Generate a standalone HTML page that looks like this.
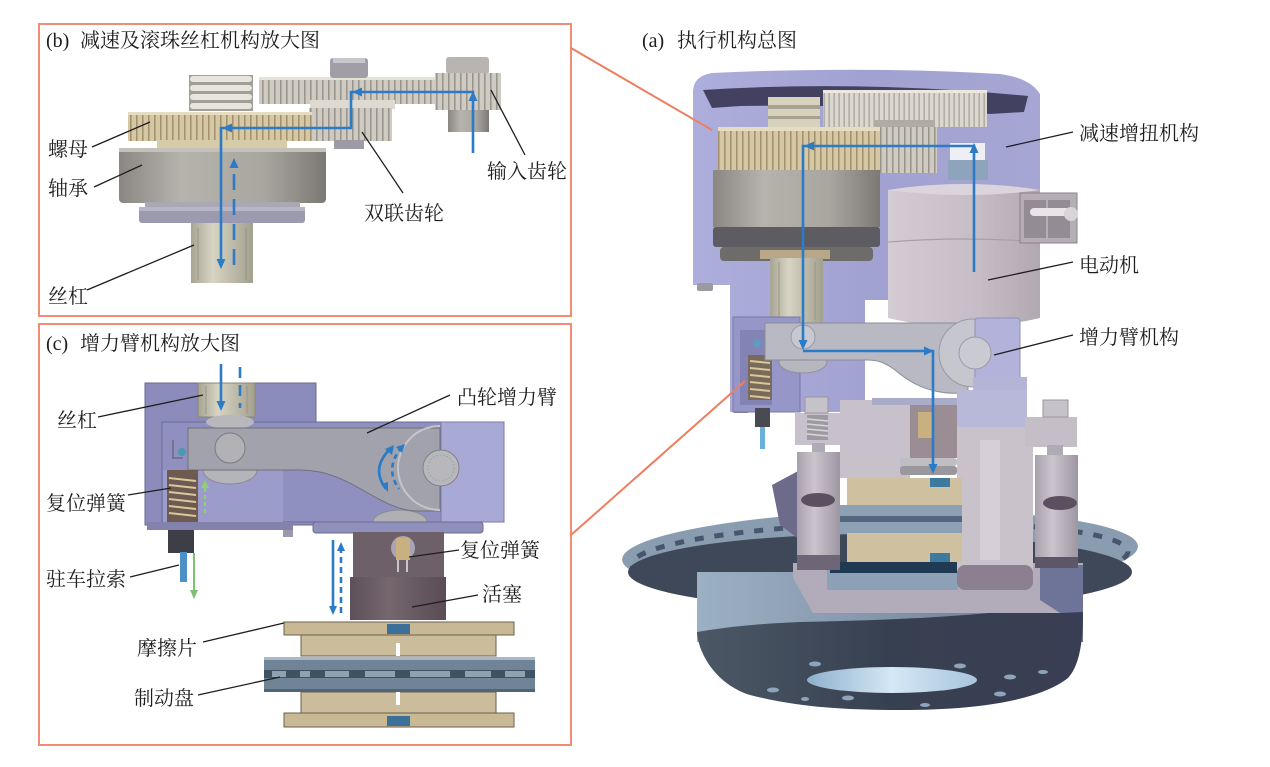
<!DOCTYPE html>
<html><head><meta charset="utf-8"><title>diagram</title>
<style>
html,body{margin:0;padding:0;background:#fff;width:1270px;height:767px;overflow:hidden}
svg{display:block}
.t{font-family:"Liberation Serif","Noto Serif CJK SC",serif;font-size:20px;fill:#1e1e1e}
.ld{stroke:#1e1e1e;stroke-width:1.3;fill:none}
.bl{stroke:#2b7bc6;stroke-width:2.6;fill:none}
</style></head><body>
<svg width="1270" height="767" viewBox="0 0 1270 767" xmlns="http://www.w3.org/2000/svg">
<defs>
<pattern id="tTan" width="6" height="60" patternUnits="userSpaceOnUse"><rect width="6" height="60" fill="#d6c8a4"/><rect x="4" width="1.6" height="60" fill="#a3946f"/></pattern>
<pattern id="tGray" width="6" height="60" patternUnits="userSpaceOnUse"><rect width="6" height="60" fill="#cfcbc3"/><rect x="4" width="1.6" height="60" fill="#9a968e"/></pattern>
<pattern id="tGray2" width="5" height="60" patternUnits="userSpaceOnUse"><rect width="5" height="60" fill="#dcd8cf"/><rect x="3.5" width="1.3" height="60" fill="#a8a49b"/></pattern>
<linearGradient id="gBear" x1="0" x2="1"><stop offset="0" stop-color="#8a8682"/><stop offset="0.3" stop-color="#b6b2ac"/><stop offset="0.7" stop-color="#a9a59f"/><stop offset="1" stop-color="#7c7874"/></linearGradient>
<linearGradient id="gShaft" x1="0" x2="1"><stop offset="0" stop-color="#a8a494"/><stop offset="0.35" stop-color="#d8d4c4"/><stop offset="1" stop-color="#a4a090"/></linearGradient>
<linearGradient id="gHouse" x1="0" x2="1"><stop offset="0" stop-color="#aeaedc"/><stop offset="0.5" stop-color="#a2a2d2"/><stop offset="1" stop-color="#a6a6d4"/></linearGradient>
<linearGradient id="gMotor" x1="0" x2="1"><stop offset="0" stop-color="#d4ccd4"/><stop offset="0.6" stop-color="#c6bcc6"/><stop offset="1" stop-color="#b2a8b2"/></linearGradient>
<linearGradient id="gHub" x1="0" x2="1"><stop offset="0" stop-color="#9cb0c4"/><stop offset="0.5" stop-color="#8294aa"/><stop offset="1" stop-color="#66768c"/></linearGradient>
<linearGradient id="gHubDark" x1="0" x2="1"><stop offset="0" stop-color="#4c5866"/><stop offset="0.5" stop-color="#374050"/><stop offset="1" stop-color="#3a3e54"/></linearGradient>
<linearGradient id="gHole" x1="0" x2="1"><stop offset="0" stop-color="#8fb0cc"/><stop offset="0.5" stop-color="#d4e8f6"/><stop offset="1" stop-color="#a8c4dc"/></linearGradient>
<linearGradient id="gPin" x1="0" x2="1"><stop offset="0" stop-color="#a8a0ac"/><stop offset="0.4" stop-color="#ccc4cc"/><stop offset="1" stop-color="#9e96a2"/></linearGradient>
<linearGradient id="gPist" x1="0" x2="1"><stop offset="0" stop-color="#5e5058"/><stop offset="0.4" stop-color="#76676f"/><stop offset="1" stop-color="#5a4c54"/></linearGradient>
</defs>
<rect width="1270" height="767" fill="#fff"/>

<!-- ================= PANEL B ================= -->
<rect x="39" y="24" width="532" height="292" fill="none" stroke="#ef8d77" stroke-width="2"/>
<text class="t" x="46" y="47">(b)</text><text class="t" x="80" y="47">减速及滚珠丝杠机构放大图</text>
<rect x="259" y="77" width="242" height="27" fill="url(#tGray)"/>
<rect x="259" y="77" width="242" height="3" fill="#e6e2da"/>
<rect x="330" y="58" width="38" height="20" rx="3" fill="#a29ea8"/>
<rect x="333" y="58" width="32" height="5" fill="#cac6ce"/>
<rect x="446" y="57" width="43" height="17" rx="3" fill="#bab4b0"/>
<rect x="435" y="73" width="66" height="37" fill="url(#tGray)"/>
<rect x="448" y="110" width="41" height="22" fill="url(#gBear)"/>
<rect x="310" y="100" width="85" height="9" fill="#dedad2"/>
<rect x="309" y="108" width="83" height="33" fill="url(#tGray)"/>
<rect x="334" y="140" width="30" height="9" fill="#9e9aa6"/>
<rect x="189" y="75" width="64" height="36" fill="#a29e98"/>
<rect x="190" y="76" width="62" height="6" rx="3" fill="#e8e4de"/>
<rect x="190" y="85" width="62" height="6" rx="3" fill="#e8e4de"/>
<rect x="190" y="94" width="62" height="6" rx="3" fill="#e8e4de"/>
<rect x="190" y="103" width="62" height="6" rx="3" fill="#e8e4de"/>
<rect x="128" y="112" width="184" height="29" fill="url(#tTan)"/>
<rect x="128" y="112" width="184" height="3" fill="#e6dcc2"/>
<rect x="157" y="140" width="130" height="9" fill="#d6ccaa"/>
<rect x="119" y="148" width="207" height="55" rx="4" fill="url(#gBear)"/>
<rect x="119" y="148" width="207" height="4" fill="#c4c0ba"/>
<rect x="145" y="202" width="155" height="6" fill="#aaa8b4"/>
<rect x="139" y="207" width="166" height="16" rx="3" fill="#9c9aae"/>
<rect x="139" y="207" width="166" height="4" fill="#b8b6c6"/>
<rect x="191" y="223" width="62" height="60" fill="url(#gShaft)"/>
<line x1="198" y1="228" x2="198" y2="280" stroke="#9a9684" stroke-width="1"/>
<line x1="246" y1="228" x2="246" y2="280" stroke="#9a9684" stroke-width="1"/>
<polyline class="bl" points="473,153 473,92 351,92 351,128 221,128 221,262"/>
<polygon points="473,91 468.5,101 477.5,101" fill="#2b7bc6"/>
<polygon points="352,92 362,87.5 362,96.5" fill="#2b7bc6"/>
<polygon points="222,128 232,123.5 232,132.5" fill="#2b7bc6"/>
<polygon points="221,269 216.5,259 225.5,259" fill="#2b7bc6"/>
<line class="bl" x1="234" y1="265" x2="234" y2="166" stroke-dasharray="16 9"/>
<polygon points="234,158 229.5,168 238.5,168" fill="#2b7bc6"/>
<text class="t" x="48" y="156">螺母</text>
<text class="t" x="48" y="195">轴承</text>
<text class="t" x="48" y="303">丝杠</text>
<text class="t" x="364" y="220">双联齿轮</text>
<text class="t" x="487" y="178">输入齿轮</text>
<line class="ld" x1="92" y1="147" x2="150" y2="122"/>
<line class="ld" x1="94" y1="187" x2="142" y2="165"/>
<line class="ld" x1="87" y1="290" x2="194" y2="245"/>
<line class="ld" x1="403" y1="193" x2="362" y2="132"/>
<line class="ld" x1="525" y1="155" x2="491" y2="90"/>

<!-- ================= PANEL C ================= -->
<rect x="39" y="324" width="532" height="421" fill="none" stroke="#ef8d77" stroke-width="2"/>
<text class="t" x="46" y="350">(c)</text><text class="t" x="80" y="350">增力臂机构放大图</text>
<rect x="145" y="383" width="171" height="142" fill="#8c8cbc" stroke="#6a6a90" stroke-width="1"/>
<path d="M162,422 L498,422 Q504,422 504,428 L504,516 Q504,522 498,522 L162,522 Z" fill="#9090c0" stroke="#6a6a94" stroke-width="1"/>
<rect x="163" y="470" width="120" height="52" fill="#9c9cca"/>
<rect x="198" y="383" width="57" height="34" fill="url(#gShaft)" stroke="#8a8676" stroke-width="1"/>
<line x1="206" y1="386" x2="206" y2="414" stroke="#9a9684"/>
<line x1="247" y1="386" x2="247" y2="414" stroke="#9a9684"/>
<ellipse cx="230" cy="422" rx="24" ry="7" fill="#b8b8bc"/>
<path d="M203,470 A27,14 0 0 0 257,470 Z" fill="#b4b4ba" stroke="#8a8a94"/>
<path d="M373,522 A27,12 0 0 1 427,522 Z" fill="#b0b0b4" stroke="#8a8a94"/>
<circle cx="440" cy="468" r="42" fill="#a8a8b0" stroke="#70707c"/>
<path d="M188,428 L440,428 L440,511 L418,511 C378,511 352,470 300,470 L188,470 Z" fill="#a2a2ac" stroke="#70707c" stroke-width="1"/>
<path d="M440,426 A42,42 0 0 0 440,510" fill="none" stroke="#c4c4ca" stroke-width="2"/>
<rect x="441" y="422" width="63" height="100" fill="#a9a9d5" stroke="#7a7aa4" stroke-width="1"/>
<circle cx="441" cy="468" r="18" fill="#b8b8bc" stroke="#80808a"/>
<circle cx="441" cy="468" r="13" fill="none" stroke="#9a9aa2" stroke-dasharray="1.5 2"/>
<circle cx="230" cy="448" r="15" fill="#b2b2b6" stroke="#7a7a84"/>
<path d="M173,440 L173,458 L183,458" fill="none" stroke="#6a6a80" stroke-width="1.5"/>
<circle cx="182" cy="452" r="4" fill="#4a9ab0"/>
<rect x="167" y="470" width="31" height="52" fill="#6e5a50"/>
<g stroke="#d8c89c" stroke-width="2"><line x1="169" y1="478" x2="196" y2="481"/><line x1="169" y1="485" x2="196" y2="488"/><line x1="169" y1="492" x2="196" y2="495"/><line x1="169" y1="499" x2="196" y2="502"/><line x1="169" y1="506" x2="196" y2="509"/><line x1="169" y1="513" x2="196" y2="516"/></g>
<rect x="147" y="522" width="146" height="8" fill="#8282ac"/>
<rect x="313" y="522" width="170" height="11" rx="3" fill="#9090bc" stroke="#6a6a94"/>
<rect x="283" y="530" width="10" height="7" fill="#9a9aac"/>
<rect x="168" y="530" width="26" height="23" fill="#3e3e46"/>
<rect x="180" y="552" width="7" height="30" fill="#4d90c8"/>
<rect x="353" y="532" width="91" height="48" fill="#6e6068"/>
<circle cx="403" cy="548" r="12" fill="#a8a4b4"/>
<rect x="396" y="538" width="14" height="22" fill="#c8b080"/>
<path d="M398,560 L398,572 M407,560 L407,572" stroke="#c8c4c8" stroke-width="2"/>
<rect x="350" y="577" width="96" height="43" fill="url(#gPist)"/>
<rect x="284" y="622" width="230" height="13" fill="#c8b894" stroke="#6a604c" stroke-width="1"/>
<rect x="301" y="635" width="195" height="21" fill="#cbbd9b" stroke="#6a604c" stroke-width="1"/>
<rect x="387" y="624" width="23" height="10" fill="#3d7099"/>
<rect x="396" y="643" width="4" height="13" fill="#fff"/>
<rect x="264" y="657" width="271" height="35" fill="#6f8597"/>
<rect x="264" y="657" width="271" height="3" fill="#a8b8c6"/>
<rect x="264" y="670" width="271" height="8" fill="#3e5262"/>
<g fill="#8ea2b2"><rect x="272" y="671" width="14" height="6"/><rect x="300" y="671" width="10" height="6"/><rect x="325" y="671" width="24" height="6"/><rect x="365" y="671" width="30" height="6"/><rect x="410" y="671" width="40" height="6"/><rect x="465" y="671" width="26" height="6"/><rect x="505" y="671" width="20" height="6"/></g>
<rect x="264" y="689" width="271" height="3" fill="#506676"/>
<rect x="301" y="692" width="195" height="21" fill="#cbbd9b" stroke="#6a604c" stroke-width="1"/>
<rect x="396" y="692" width="4" height="13" fill="#fff"/>
<rect x="284" y="713" width="230" height="14" fill="#c8b894" stroke="#6a604c" stroke-width="1"/>
<rect x="387" y="716" width="23" height="10" fill="#3d7099"/>
<line class="bl" x1="221" y1="364" x2="221" y2="403" stroke-width="3"/>
<polygon points="221,411 216.5,401 225.5,401" fill="#2b7bc6"/>
<line class="bl" x1="240" y1="367" x2="240" y2="408" stroke-width="3" stroke-dasharray="11 7"/>
<path class="bl" d="M391,448 Q370,468 386,489" stroke-width="2.2"/>
<polygon points="394,445 385,449 392,455" fill="#2b7bc6"/>
<polygon points="388,492 381,484 388,482" fill="#2b7bc6"/>
<path class="bl" d="M402,447 Q384,468 399,489" stroke-width="2" stroke-dasharray="5 4"/>
<polygon points="405,444 396,447 402,453" fill="#2b7bc6"/>
<line x1="205" y1="513" x2="205" y2="487" stroke="#8fcf6e" stroke-width="2" stroke-dasharray="4 3"/>
<polygon points="205,480 201,488 209,488" fill="#8fcf6e"/>
<line x1="194" y1="553" x2="194" y2="592" stroke="#7cc070" stroke-width="2"/>
<polygon points="194,599 190,590 198,590" fill="#7cc070"/>
<line class="bl" x1="333" y1="540" x2="333" y2="608" stroke-width="2"/>
<polygon points="333,615 329,606 337,606" fill="#2b7bc6"/>
<line class="bl" x1="341" y1="613" x2="341" y2="550" stroke-width="2" stroke-dasharray="6 4"/>
<polygon points="341,542 337,551 345,551" fill="#2b7bc6"/>
<text class="t" x="57" y="427">丝杠</text>
<text class="t" x="457" y="404">凸轮增力臂</text>
<text class="t" x="46" y="510">复位弹簧</text>
<text class="t" x="46" y="586">驻车拉索</text>
<text class="t" x="460" y="557">复位弹簧</text>
<text class="t" x="482" y="601">活塞</text>
<text class="t" x="137" y="655">摩擦片</text>
<text class="t" x="134" y="705">制动盘</text>
<line class="ld" x1="98" y1="417" x2="203" y2="395"/>
<line class="ld" x1="450" y1="395" x2="367" y2="433"/>
<line class="ld" x1="128" y1="495" x2="171" y2="488"/>
<line class="ld" x1="130" y1="577" x2="179" y2="565"/>
<line class="ld" x1="459" y1="550" x2="409" y2="557"/>
<line class="ld" x1="478" y1="595" x2="412" y2="607"/>
<line class="ld" x1="203" y1="642" x2="284" y2="623"/>
<line class="ld" x1="198" y1="695" x2="280" y2="677"/>

<!-- ================= PANEL A ================= -->
<text class="t" x="642" y="47">(a)</text><text class="t" x="677" y="47">执行机构总图</text>
<!-- disc -->
<ellipse cx="880" cy="553" rx="258" ry="42" fill="#8a9cb0" transform="rotate(-1.5 880 553)"/>
<ellipse cx="880" cy="558" rx="248" ry="35" fill="none" stroke="#46566c" stroke-width="5" stroke-dasharray="9 11" transform="rotate(-1.5 880 558)"/>
<ellipse cx="880" cy="572" rx="252" ry="38" fill="#3e4858"/>
<!-- hub -->
<rect x="697" y="572" width="386" height="70" fill="url(#gHub)"/>
<path d="M697,632 C698,652 715,684 750,695 C800,708 850,710 900,710 C980,710 1040,700 1068,678 C1080,665 1083,640 1083,612 L1083,600 C1000,616 900,620 800,622 C750,624 720,628 697,632 Z" fill="url(#gHubDark)"/>
<ellipse cx="892" cy="680" rx="85" ry="13" fill="url(#gHole)"/>
<g fill="#8ea4bc"><ellipse cx="815" cy="664" rx="6" ry="2.5"/><ellipse cx="773" cy="690" rx="6" ry="2.5"/><ellipse cx="960" cy="666" rx="6" ry="2.5"/><ellipse cx="1010" cy="677" rx="6" ry="2.5"/><ellipse cx="1043" cy="672" rx="5" ry="2"/><ellipse cx="848" cy="698" rx="6" ry="2.5"/><ellipse cx="1000" cy="694" rx="6" ry="2.5"/><ellipse cx="805" cy="699" rx="4" ry="2"/><ellipse cx="925" cy="705" rx="5" ry="2"/></g>
<!-- caliper bottom frame -->
<polygon points="793,563 1083,563 1083,578 1060,613 813,613 793,578" fill="#b2acba"/>
<polygon points="1040,565 1083,565 1083,612 1060,613 1040,600" fill="#6e7498"/>
<rect x="827" y="568" width="131" height="22" fill="#8ca0b6"/>
<polygon points="772,485 800,470 800,540 780,525" fill="#6e6a8a"/>
<!-- housing -->
<path d="M693,92 Q693,76 712,73 Q860,66 1000,74 Q1030,78 1040,94 L1040,200 L888,200 L888,300 L865,300 L865,412 L730,412 L730,285 L693,285 Z" fill="url(#gHouse)"/>
<path d="M703,90 Q860,80 1028,96 L1024,112 L990,114 Q860,104 740,106 L712,108 Z" fill="#424260"/>
<rect x="697" y="283" width="16" height="8" rx="2" fill="#9a9aa2"/>
<rect x="733" y="405" width="16" height="8" rx="2" fill="#8a8a94"/>
<!-- gears -->
<rect x="768" y="97" width="52" height="30" fill="#d8d2bc"/>
<rect x="768" y="105" width="52" height="4" fill="#a8a292"/>
<rect x="768" y="116" width="52" height="3" fill="#a8a292"/>
<rect x="823" y="90" width="164" height="37" fill="url(#tGray2)"/>
<rect x="823" y="90" width="164" height="3" fill="#ece8e0"/>
<rect x="875" y="120" width="60" height="12" fill="#b0aca4"/>
<rect x="867" y="127" width="70" height="46" fill="url(#tGray)"/>
<rect x="950" y="143" width="35" height="17" fill="#eeeef4"/>
<rect x="948" y="160" width="40" height="20" fill="#8ea4bc"/>
<rect x="718" y="127" width="162" height="43" fill="url(#tTan)"/>
<rect x="718" y="127" width="162" height="4" fill="#e6dcc2"/>
<rect x="713" y="170" width="167" height="57" fill="url(#gBear)"/>
<rect x="713" y="227" width="167" height="20" rx="3" fill="#5c5c62"/>
<rect x="720" y="247" width="153" height="14" rx="4" fill="#6e6c6a"/>
<rect x="760" y="250" width="70" height="9" fill="#b8a888"/>
<rect x="770" y="258" width="53" height="67" fill="url(#gShaft)"/>
<line x1="779" y1="262" x2="779" y2="320" stroke="#9a9684"/>
<line x1="815" y1="262" x2="815" y2="320" stroke="#9a9684"/>
<!-- motor -->
<path d="M888,190 Q964,178 1040,190 L1040,318 Q964,336 888,318 Z" fill="url(#gMotor)"/>
<path d="M888,190 Q964,178 1040,190 Q964,200 888,190 Z" fill="#dcd4dc"/>
<path d="M888,242 Q964,236 1040,242" stroke="#a89ea8" stroke-width="1.2" fill="none"/>
<rect x="1020" y="193" width="57" height="50" fill="#b6aeb6" stroke="#8a828a"/>
<rect x="1024" y="200" width="22" height="38" fill="#948c94"/>
<rect x="1048" y="200" width="22" height="38" fill="#948c94"/>
<rect x="1030" y="208" width="40" height="8" rx="4" fill="#e8e4e8"/>
<circle cx="1071" cy="214" r="7" fill="#d8d4d8"/>
<!-- lever -->
<rect x="733" y="317" width="67" height="95" fill="#9696c8" stroke="#7878a8"/>
<rect x="740" y="330" width="32" height="75" fill="#8484b4"/>
<rect x="748" y="355" width="24" height="45" fill="#7a6a5a"/>
<g stroke="#d8c89c" stroke-width="2"><line x1="750" y1="361" x2="770" y2="363"/><line x1="750" y1="368" x2="770" y2="370"/><line x1="750" y1="375" x2="770" y2="377"/><line x1="750" y1="382" x2="770" y2="384"/><line x1="750" y1="389" x2="770" y2="391"/><line x1="750" y1="396" x2="770" y2="398"/></g>
<circle cx="757" cy="343" r="4" fill="#5e9cc4"/>
<ellipse cx="803" cy="362" rx="24" ry="11" fill="#b6b6be" stroke="#9090a0"/>
<path d="M765,323 L968,323 L968,392 C945,396 920,390 900,374 C888,364 880,360 868,360 L765,360 Z" fill="#b9b9c3" stroke="#8c8c9a"/>
<circle cx="973" cy="353" r="34" fill="#c6c6ce" stroke="#9898a6"/>
<rect x="975" y="318" width="45" height="82" rx="3" fill="#b2b2da" stroke="#9090b8"/>
<rect x="973" y="377" width="54" height="46" fill="#b4b4d6"/>
<circle cx="803" cy="337" r="12" fill="#c8c8d0" stroke="#9a9aa8"/>
<circle cx="975" cy="353" r="16" fill="#cacad2" stroke="#9a9aa8"/>
<rect x="755" y="408" width="15" height="19" fill="#4a4a52"/>
<rect x="760" y="427" width="5" height="22" fill="#6ab0dc"/>
<!-- caliper -->
<rect x="840" y="400" width="70" height="78" fill="#c8c0ca"/>
<rect x="872" y="398" width="85" height="7" fill="#a8acc8"/>
<rect x="910" y="405" width="47" height="53" fill="#9a8e94"/>
<rect x="918" y="412" width="14" height="26" fill="#c8b080"/>
<rect x="900" y="458" width="57" height="8" rx="3" fill="#c0bec2"/>
<rect x="900" y="466" width="57" height="9" rx="3" fill="#9a989c"/>
<rect x="957" y="390" width="70" height="43" fill="#b8b8d8"/>
<path d="M957,427 L1033,427 L1033,575 Q1033,590 1018,590 L972,590 Q957,590 957,575 Z" fill="#cac2ca"/>
<rect x="980" y="440" width="20" height="120" fill="#d6cfd6"/>
<rect x="957" y="565" width="76" height="25" rx="8" fill="#8c8090"/>
<rect x="847" y="478" width="115" height="27" fill="#cfc0a0"/>
<rect x="930" y="478" width="20" height="9" fill="#3d7aa0"/>
<rect x="840" y="505" width="122" height="28" fill="#8ea0b4"/>
<rect x="840" y="516" width="122" height="6" fill="#52667e"/>
<rect x="847" y="533" width="115" height="29" fill="#cfc0a0"/>
<rect x="930" y="553" width="20" height="9" fill="#3d7aa0"/>
<rect x="830" y="562" width="127" height="11" fill="#1f3a52"/>
<!-- guide pins & bolts -->
<rect x="797" y="452" width="43" height="118" fill="url(#gPin)"/>
<ellipse cx="818" cy="500" rx="17" ry="7" fill="#5a5060"/>
<rect x="797" y="555" width="43" height="15" fill="#6e6676"/>
<rect x="795" y="413" width="45" height="32" fill="#c8c0cc"/>
<rect x="807" y="415" width="21" height="25" fill="#9e9aa2"/>
<g stroke="#d8d6da" stroke-width="1.5"><line x1="807" y1="419" x2="828" y2="421"/><line x1="807" y1="424" x2="828" y2="426"/><line x1="807" y1="429" x2="828" y2="431"/><line x1="807" y1="434" x2="828" y2="436"/></g>
<rect x="805" y="397" width="23" height="16" fill="#c6c2ca" stroke="#9a96a0"/>
<rect x="812" y="443" width="13" height="9" fill="#b0aab4"/>
<rect x="1035" y="455" width="43" height="105" fill="url(#gPin)"/>
<ellipse cx="1060" cy="503" rx="17" ry="7" fill="#5a5060"/>
<rect x="1035" y="557" width="43" height="11" fill="#5e5666"/>
<rect x="1025" y="417" width="52" height="30" fill="#c6bec6"/>
<rect x="1043" y="400" width="25" height="17" fill="#c6c2ca" stroke="#9a96a0"/>
<rect x="1047" y="445" width="16" height="10" fill="#b0aab4"/>
<!-- blue arrows a -->
<polyline class="bl" points="974,272 974,146 803,146 803,344"/>
<polygon points="974,143 969.5,153 978.5,153" fill="#2b7bc6"/>
<polygon points="804,146 814,141.5 814,150.5" fill="#2b7bc6"/>
<polygon points="803,350 798.5,340 807.5,340" fill="#2b7bc6"/>
<polyline class="bl" points="803,351 933,351 933,467"/>
<polygon points="934,351 924,346.5 924,355.5" fill="#2b7bc6"/>
<polygon points="933,474 928.5,464 937.5,464" fill="#2b7bc6"/>
<text class="t" x="1079" y="140">减速增扭机构</text>
<text class="t" x="1079" y="272">电动机</text>
<text class="t" x="1079" y="344">增力臂机构</text>
<line class="ld" x1="1073" y1="132" x2="1006" y2="147"/>
<line class="ld" x1="1073" y1="262" x2="988" y2="280"/>
<line class="ld" x1="1073" y1="335" x2="994" y2="355"/>

<line x1="571" y1="48" x2="712" y2="130" stroke="#ee7e60" stroke-width="2"/>
<line x1="571" y1="535" x2="745" y2="381" stroke="#ee7e60" stroke-width="2"/>
</svg>
</body></html>
